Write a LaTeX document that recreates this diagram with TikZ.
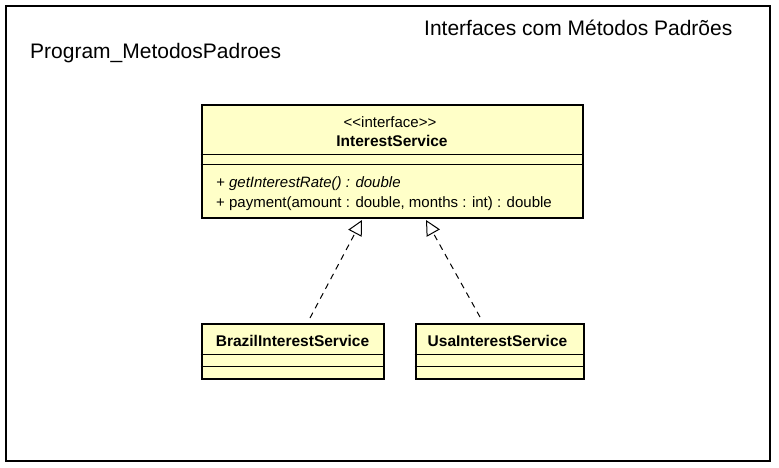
\documentclass[tikz,border=0pt]{standalone}
\usepackage{fontspec}
\setmainfont{Liberation Sans}
\usetikzlibrary{arrows.meta}
\definecolor{classfill}{HTML}{FFFFC8}
\tikzset{
  classbox/.style={draw=black, fill=classfill, line width=2.6pt, rectangle, inner sep=0pt},
  sepline/.style={draw=black, line width=1pt},
  realize/.style={draw=black, line width=1pt, dash pattern=on 6pt off 5pt, -{Triangle[open, length=15pt, width=15pt, line width=1pt]}},
  lbl/.style={inner sep=0pt, anchor=base west},
  cname/.style={inner sep=0pt, anchor=base, font=\bfseries\fontsize{15.5}{18}\selectfont},
}
\begin{document}
\begin{tikzpicture}[x=1pt,y=-1pt]
\useasboundingbox (0,0) rectangle (779,467);
\draw[line width=2pt] (5.5,5.5) rectangle (769.5,460.5);
\node[lbl, font=\fontsize{21}{24}\selectfont] (title) at (424,35) {Interfaces com Métodos Padrões};
\node[lbl, font=\fontsize{21}{24}\selectfont] (pkg) at (30,58) {Program\_MetodosPadroes};

% interface
\node[classbox, minimum width=381pt, minimum height=113pt] (iface) at (392.5,161.5) {};
\draw[sepline] (iface.west |- 0,154) -- (iface.east |- 0,154);
\draw[sepline] (iface.west |- 0,164) -- (iface.east |- 0,164);
\node[inner sep=0pt, anchor=base, font=\fontsize{15}{18}\selectfont] (stereo) at (390,127.5) {<{}<interface>{}>};
\node[cname] (iname) at (392,146.5) {InterestService};
\node[lbl, font=\itshape\fontsize{15}{18}\selectfont] (m1) at (216,187.5) {+ getInterestRate() : double};
\node[lbl, font=\fontsize{15}{18}\selectfont] (m2) at (216,207) {+ payment(amount : double, months : int) : double};

% Brazil
\node[classbox, minimum width=182pt, minimum height=55pt] (brazil) at (293,351.5) {};
\draw[sepline] (brazil.west |- 0,354.5) -- (brazil.east |- 0,354.5);
\draw[sepline] (brazil.west |- 0,366.5) -- (brazil.east |- 0,366.5);
\node[cname] (bname) at (292.5,346.5) {BrazilInterestService};

% Usa
\node[classbox, minimum width=168pt, minimum height=55pt] (usa) at (500,351.5) {};
\draw[sepline] (usa.west |- 0,354.5) -- (usa.east |- 0,354.5);
\draw[sepline] (usa.west |- 0,366.5) -- (usa.east |- 0,366.5);
\node[cname] (uname) at (497.5,346.5) {UsaInterestService};

% realizations
\coordinate (bstart) at (310,318);
\coordinate (btip) at (362,220);
\coordinate (ustart) at (480,317);
\coordinate (utip) at (426,220);
\draw[realize] (bstart) -- (btip);
\draw[realize] (ustart) -- (utip);
\end{tikzpicture}
\end{document}
